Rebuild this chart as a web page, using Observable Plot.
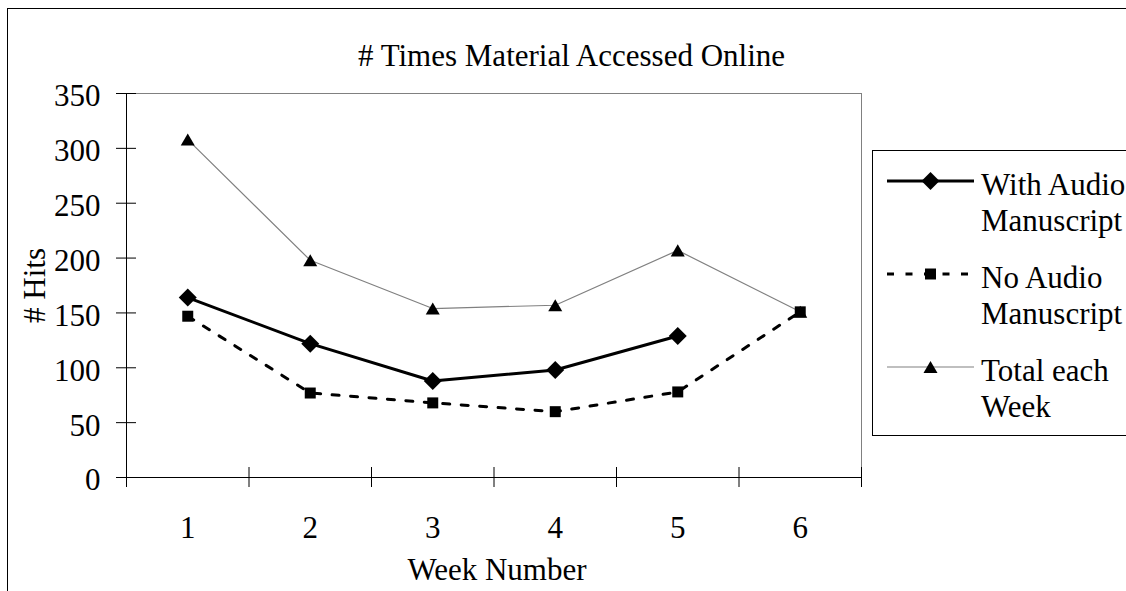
<!DOCTYPE html>
<html><head><meta charset="utf-8">
<script src="https://cdn.jsdelivr.net/npm/d3@7"></script>
<script src="https://cdn.jsdelivr.net/npm/@observablehq/plot@0.6"></script>
<style>
html,body{margin:0;padding:0;background:#fff;}
body{width:1126px;height:591px;position:relative;overflow:hidden;font-family:"Liberation Serif","Times New Roman",serif;color:#000;}
#chart{position:absolute;left:0;top:0;}
#frame{position:absolute;left:7px;top:8px;width:1400px;height:900px;border:1px solid #000;box-sizing:border-box;pointer-events:none;}
#title{position:absolute;left:271px;width:601px;top:40px;text-align:center;font-size:31px;line-height:31px;white-space:nowrap;}
#legend{position:absolute;left:872px;top:150px;width:400px;height:286px;border:1px solid #000;box-sizing:border-box;background:#fff;}
.entry{position:absolute;left:0;width:380px;font-size:31px;line-height:35.5px;}
.entry svg{position:absolute;left:14px;top:0;overflow:visible;}
.entry .lbl{position:absolute;left:108px;top:0;white-space:nowrap;}
</style></head>
<body>
<div id="chart"></div>
<div id="title"></div>
<div id="legend"></div>
<div id="frame"></div>
<script>
// ---- data ----
const weeks = [1, 2, 3, 4, 5, 6];
const withAudio = [164, 122, 88, 98, 129, null];
const noAudio = [147, 77, 68, 60, 78, 151];
const totalWeek = [308, 198, 154, 157, 207, 151];
const seriesNames = ["With Audio Manuscript", "No Audio Manuscript", "Total each Week"];
const yTicks = [0, 50, 100, 150, 200, 250, 300, 350];
const chartTitle = "# Times Material Accessed Online";
const xTitle = "Week Number";
const yTitle = "# Hits";

// ---- styles ----
const seriesStyles = [
  {stroke: "#000", strokeWidth: 3, dash: null, symbol: "diamond2", r: 8.1, dy: 0},
  {stroke: "#000", strokeWidth: 3, dash: "7,11.5", symbol: "square", r: 6.2, dy: 0},
  {stroke: "#808080", strokeWidth: 1.2, dash: null, symbol: "triangle", r: 5.2, dy: 2}
];
const seriesValues = [withAudio, noAudio, totalWeek];

const rowsOf = vals => weeks.map((w, i) => ({week: w, value: vals[i]})).filter(d => d.value != null);

const W = 1126, H = 591;
const mL = 126, mR = 265, mT = 93, mB = 114;
const plotW = W - mL - mR, plotH = H - mT - mB;
const xMin = weeks[0] - 0.5, xMax = weeks[weeks.length - 1] + 0.5;
const xBounds = d3.range(xMin, xMax + 0.01, 1);
const yMin = yTicks[0], yMax = yTicks[yTicks.length - 1];

const seriesMarks = [];
// draw Total first so the others sit above it
[2, 0, 1].forEach(k => {
  const s = seriesStyles[k];
  const rows = rowsOf(seriesValues[k]);
  seriesMarks.push(Plot.line(rows, {x: "week", y: "value", stroke: s.stroke, strokeWidth: s.strokeWidth, strokeDasharray: s.dash}));
  seriesMarks.push(Plot.dot(rows, {x: "week", y: "value", symbol: s.symbol, r: s.r, fill: "#000", stroke: "none", dy: s.dy}));
});

const chart = Plot.plot({
  width: W, height: H,
  marginLeft: mL, marginRight: mR, marginTop: mT, marginBottom: mB,
  x: {type: "linear", domain: [xMin, xMax]},
  y: {domain: [yMin, yMax]},
  style: {fontFamily: '"Liberation Serif","Times New Roman",serif', fontSize: "31px", color: "#000", background: "transparent", overflow: "visible"},
  marks: [
    Plot.ruleY([yMax], {stroke: "#808080"}),
    Plot.ruleX([xMax], {stroke: "#808080"}),
    Plot.tickY(yTicks, {y: d => d, stroke: "#000", insetLeft: -10, insetRight: plotW - 10}),
    Plot.tickX(xBounds, {x: d => d, stroke: "#000", insetTop: plotH - 10, insetBottom: -10}),
    Plot.ruleY([yMin], {stroke: "#000"}),
    Plot.ruleX([xMin], {stroke: "#000"}),
    Plot.axisY({ticks: yTicks, tickSize: 0, tickPadding: 26, label: null, dy: 3, fontSize: 31}),
    Plot.axisX({ticks: weeks, tickSize: 0, tickPadding: 38, label: null, fontSize: 31, tickFormat: d => String(d)}),
    Plot.text([yTitle], {frameAnchor: "left", textAnchor: "middle", lineAnchor: "middle", rotate: -90, dx: -91, text: d => d, fontSize: 31}),
    Plot.text([xTitle], {frameAnchor: "bottom", textAnchor: "middle", lineAnchor: "middle", dy: 93, dx: 3, text: d => d, fontSize: 31}),
    ...seriesMarks
  ]
});
document.getElementById("chart").appendChild(chart);
document.getElementById("title").textContent = chartTitle;

// ---- legend ----
const legend = d3.select("#legend");
seriesNames.forEach((name, i) => {
  const s = seriesStyles[i];
  const cut = name.lastIndexOf(" ");
  const lines = [name.slice(0, cut), name.slice(cut + 1)];
  const entry = legend.append("div").attr("class", "entry").style("top", (16 + i * 93) + "px");
  const svg = entry.append("svg").attr("width", 87).attr("height", 36);
  const cy = 14;
  svg.append("line").attr("x1", 0).attr("x2", 87).attr("y1", cy).attr("y2", cy)
    .attr("stroke", s.stroke).attr("stroke-width", s.strokeWidth)
    .attr("stroke-dasharray", s.dash ? s.dash : null);
  const symMap = {diamond2: d3.symbolDiamond2, square: d3.symbolSquare, triangle: d3.symbolTriangle};
  svg.append("path").attr("d", d3.symbol(symMap[s.symbol], Math.PI * s.r * s.r)())
    .attr("transform", `translate(43.5,${cy + s.dy})`).attr("fill", "#000");
  const lbl = entry.append("div").attr("class", "lbl");
  lbl.html(lines.map(l => l.replace(/&/g, "&amp;")).join("<br>"));
});
</script>
</body></html>
